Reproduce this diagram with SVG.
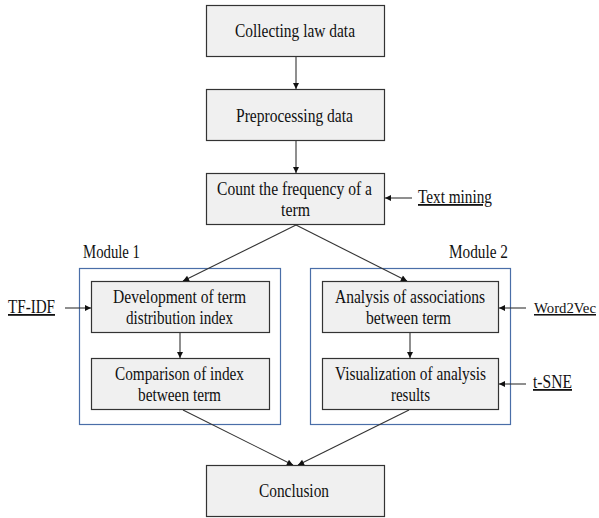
<svg xmlns="http://www.w3.org/2000/svg" width="599" height="518" viewBox="0 0 599 518" font-family="Liberation Serif">
<defs>
<style>
.box{fill:#f0f0f0;stroke:#333;stroke-width:1.2}
.mod{fill:none;stroke:#4a6ea8;stroke-width:1.2}
.t{font-size:18px;fill:#111}
.u{text-decoration:underline}
.ln{stroke:#333;stroke-width:1.1;fill:none;marker-end:url(#ah)}
</style>
<marker id="ah" viewBox="0 0 10 10" refX="10" refY="5" markerWidth="7" markerHeight="6" markerUnits="userSpaceOnUse" orient="auto">
<path d="M0,0 L10,5 L0,10 z" fill="#111"/>
</marker>
</defs>
<rect width="599" height="518" fill="#fff"/>
<g id="module1"><rect class="mod" x="79.5" y="268.5" width="201" height="156"/>
<text class="t" x="83" y="258" textLength="57" lengthAdjust="spacingAndGlyphs">Module 1</text></g>
<g id="module2"><rect class="mod" x="310.5" y="268.5" width="200" height="156"/>
<text class="t" x="449" y="258" textLength="59" lengthAdjust="spacingAndGlyphs">Module 2</text></g>
<g id="n1"><rect class="box" x="206.5" y="5.5" width="178" height="51"/>
<text class="t" x="235" y="37" textLength="120" lengthAdjust="spacingAndGlyphs">Collecting law data</text></g>
<g id="n2"><rect class="box" x="206.5" y="89.5" width="178" height="51"/>
<text class="t" x="236" y="122" textLength="117" lengthAdjust="spacingAndGlyphs">Preprocessing data</text></g>
<g id="n3"><rect class="box" x="206.5" y="173.5" width="178" height="51"/>
<text class="t" x="217" y="195" textLength="155" lengthAdjust="spacingAndGlyphs">Count the frequency of a</text>
<text class="t" x="281" y="216" textLength="29" lengthAdjust="spacingAndGlyphs">term</text></g>
<g id="n4"><rect class="box" x="91.5" y="281.5" width="178" height="51"/>
<text class="t" x="113" y="303" textLength="133" lengthAdjust="spacingAndGlyphs">Development of term</text>
<text class="t" x="126" y="324" textLength="107" lengthAdjust="spacingAndGlyphs">distribution index</text></g>
<g id="n5"><rect class="box" x="91.5" y="358.5" width="178" height="51"/>
<text class="t" x="115" y="380" textLength="129" lengthAdjust="spacingAndGlyphs">Comparison of index</text>
<text class="t" x="138" y="401" textLength="83" lengthAdjust="spacingAndGlyphs">between term</text></g>
<g id="n6"><rect class="box" x="322.5" y="281.5" width="176" height="51"/>
<text class="t" x="335" y="303" textLength="150" lengthAdjust="spacingAndGlyphs">Analysis of associations</text>
<text class="t" x="366" y="324" textLength="85" lengthAdjust="spacingAndGlyphs">between term</text></g>
<g id="n7"><rect class="box" x="322.5" y="358.5" width="176" height="51"/>
<text class="t" x="335" y="380" textLength="151" lengthAdjust="spacingAndGlyphs">Visualization of analysis</text>
<text class="t" x="391" y="401" textLength="39" lengthAdjust="spacingAndGlyphs">results</text></g>
<g id="n8"><rect class="box" x="206.5" y="465.5" width="178" height="51"/>
<text class="t" x="259" y="497" textLength="70" lengthAdjust="spacingAndGlyphs">Conclusion</text></g>
<g id="l-textmining"><text class="t u" x="418" y="203" textLength="74" lengthAdjust="spacingAndGlyphs">Text mining</text></g>
<g id="l-tfidf"><text class="t u" x="8" y="313" textLength="47" lengthAdjust="spacingAndGlyphs">TF-IDF</text></g>
<g id="l-word2vec"><text class="t u" x="534" y="313" style="font-size:15.5px" textLength="62" lengthAdjust="spacingAndGlyphs">Word2Vec</text></g>
<g id="l-tsne"><text class="t u" x="533" y="388" textLength="39" lengthAdjust="spacingAndGlyphs">t-SNE</text></g>
<g id="connectors">
<line class="ln" x1="296" y1="57" x2="296" y2="89"/>
<line class="ln" x1="296" y1="141" x2="296" y2="173"/>
<line class="ln" x1="296" y1="225" x2="183" y2="281"/>
<line class="ln" x1="296" y1="225" x2="407" y2="281"/>
<line class="ln" x1="412" y1="198" x2="385" y2="198"/>
<line class="ln" x1="65" y1="308" x2="91" y2="308"/>
<line class="ln" x1="180" y1="333" x2="180" y2="358"/>
<line class="ln" x1="410" y1="333" x2="410" y2="358"/>
<line class="ln" x1="526" y1="308" x2="499" y2="308"/>
<line class="ln" x1="526" y1="384" x2="499" y2="384"/>
<line class="ln" x1="183" y1="410" x2="293" y2="465"/>
<line class="ln" x1="409" y1="410" x2="298" y2="465"/>
</g>
</svg>
